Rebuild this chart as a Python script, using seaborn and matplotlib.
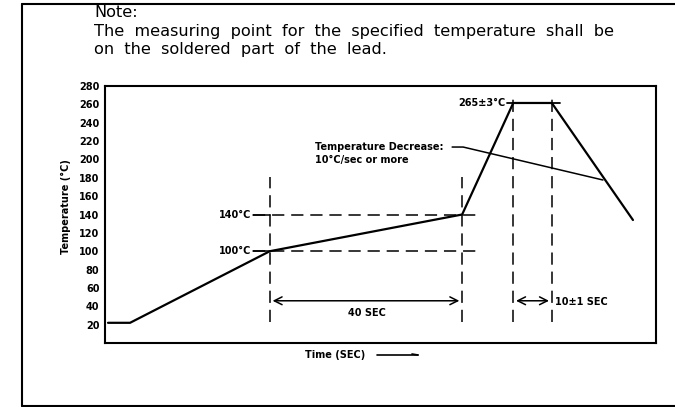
import seaborn as sns
import pandas as pd
import matplotlib.pyplot as plt
from matplotlib.lines import Line2D

# reflow profile (schematic time units, temperature in deg C)
profile_time = [0.6, 5.0, 32.9, 71.3, 81.5, 89.2, 105.4]
profile_temp = [22, 22, 100, 140, 261.5, 261.5, 134]

y_ticks = list(range(20, 281, 20))
preheat_start, preheat_end = 32.9, 71.3
peak_start, peak_end = 81.5, 89.2
preheat_lo, preheat_hi = 100, 140
peak_temp = 261.5

note_lines = [
    "Note:",
    "The  measuring  point  for  the  specified  temperature  shall  be",
    "on  the  soldered  part  of  the  lead.",
]

sns.set_style("white")
plt.rcParams["font.family"] = ["DejaVu Sans"]
plt.rcParams["text.color"] = "black"
plt.rcParams["axes.labelcolor"] = "black"
plt.rcParams["ytick.color"] = "black"

fig = plt.figure(figsize=(6.75, 4.07), dpi=100)
ax = fig.add_axes([105 / 675, 64 / 407, 551 / 675, 257 / 407])

df = pd.DataFrame({"time": profile_time, "temp": profile_temp})
sns.lineplot(data=df, x="time", y="temp", ax=ax, color="black", lw=1.6)

ax.set_xlim(0, 110)
ax.set_ylim(0, 280)
ax.set_yticks(y_ticks)
ax.set_xticks([])
ax.tick_params(axis="y", length=0, pad=4, labelsize=7)
for lab in ax.get_yticklabels():
    lab.set_fontweight("bold")
for sp in ax.spines.values():
    sp.set_linewidth(1.5)
    sp.set_color("black")
ax.set_xlabel("")
ax.set_ylabel("Temperature (°C)", fontsize=7, fontweight="bold")
ax.yaxis.set_label_coords(-0.062, 0.53)

dash = dict(color="black", lw=1.1, dashes=(8, 4.5))
# vertical dashed guides
for xv in (preheat_start, preheat_end):
    ax.plot([xv, xv], [23, 181], **dash)
for xv in (peak_start, peak_end):
    ax.plot([xv, xv], [23, 270], **dash)
# horizontal dashed guides
for yv in (preheat_lo, preheat_hi):
    ax.plot([29.5, 74.3], [yv, yv], **dash)
    ax.plot([29.5, 32.9], [yv, yv], color="black", lw=1.1)
ax.plot([80.3, 90.8], [peak_temp, peak_temp], color="black", lw=1.3)

bold = dict(fontsize=7, fontweight="bold", va="center")
ax.text(29.3, preheat_hi, "140°C", ha="right", **bold)
ax.text(29.3, preheat_lo, "100°C", ha="right", **bold)
ax.text(80.0, peak_temp, "265±3°C", ha="right", **bold)

arrow = dict(arrowstyle="<->", color="black", lw=1.1, mutation_scale=14)
ax.annotate("", xy=(preheat_start, 46), xytext=(preheat_end, 46), arrowprops=arrow)
ax.annotate("", xy=(peak_start, 46), xytext=(peak_end, 46), arrowprops=arrow)
ax.text(52.3, 33, "40 SEC", ha="center", **bold)
ax.text(89.8, 45, "10±1 SEC", ha="left", **bold)

ax.text(41.9, 213.5, "Temperature Decrease:", ha="left", **bold)
ax.text(41.9, 199, "10°C/sec or more", ha="left", **bold)
ax.plot([69.3, 71.5, 99.4], [213.5, 213.5, 177.6], color="black", lw=1.1)

fig.text(305 / 675, 1 - 355 / 407, "Time (SEC)", fontsize=7, fontweight="bold",
         ha="left", va="center")
fig.add_artist(Line2D([377 / 675, 418 / 675], [1 - 355 / 407] * 2,
                      color="black", lw=1.2, transform=fig.transFigure))
fig.add_artist(Line2D([412 / 675, 418 / 675], [1 - 354 / 407, 1 - 355 / 407],
                      color="black", lw=1.2, transform=fig.transFigure))

for line, base in zip(note_lines, [17, 36, 54]):
    fig.text(94 / 675, 1 - base / 407, line, fontsize=11.6,
             ha="left", va="baseline")

# outer frame
for xs, ys in [([22, 22], [4, 406]), ([22, 675], [4, 4]), ([22, 675], [406, 406])]:
    fig.add_artist(Line2D([x / 675 for x in xs], [1 - y / 407 for y in ys],
                          color="black", lw=1.5, transform=fig.transFigure))

fig.savefig("out.png", dpi=100)
